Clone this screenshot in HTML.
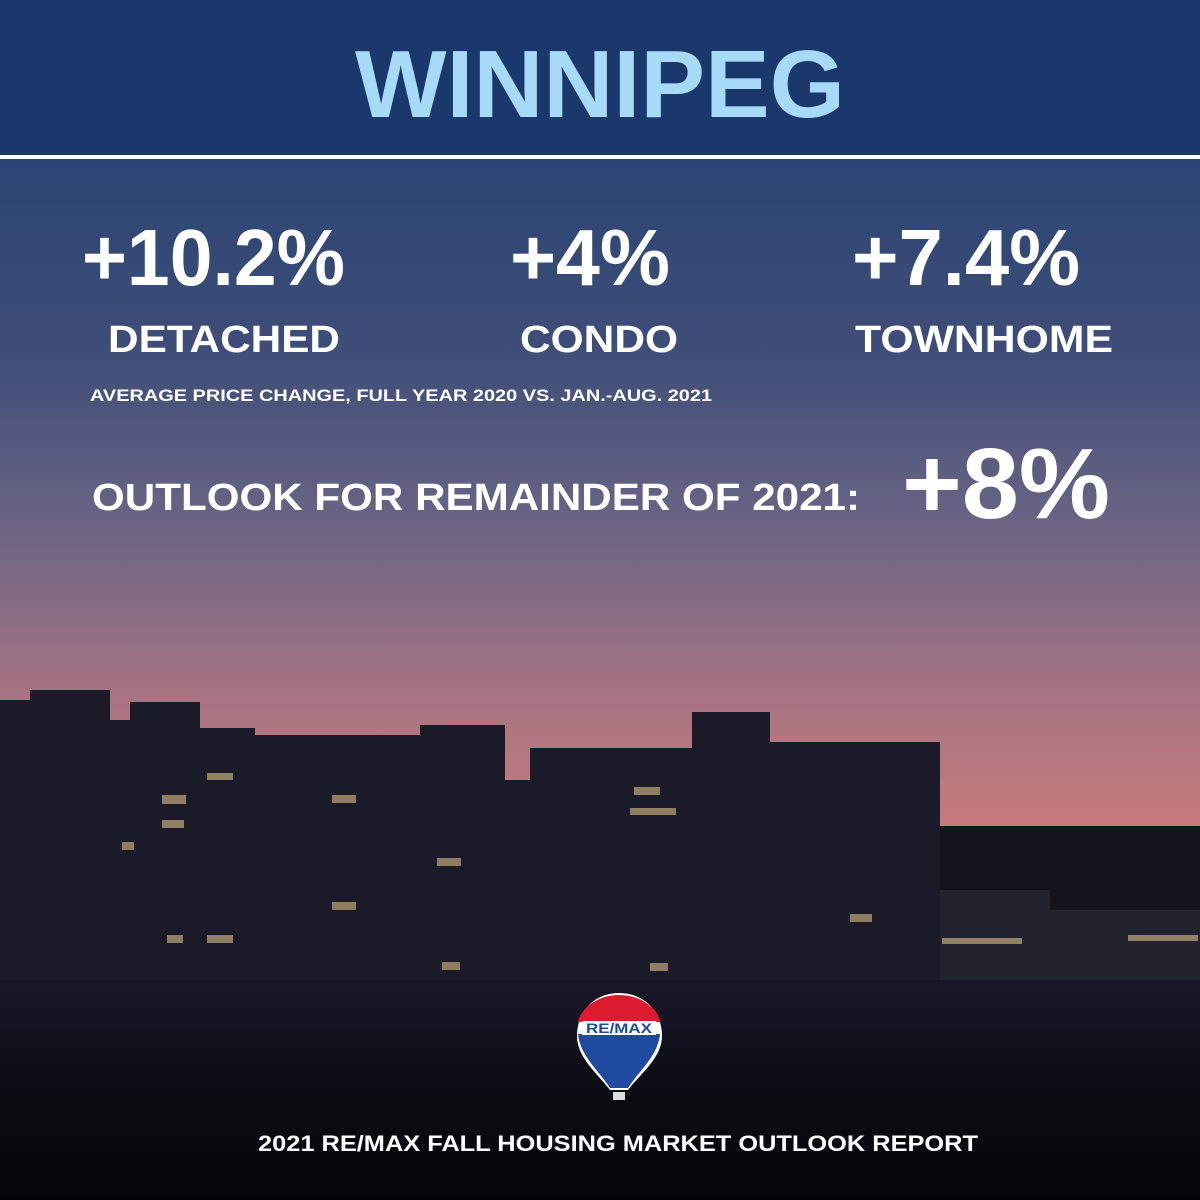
<!DOCTYPE html>
<html><head><meta charset="utf-8"><style>html,body{margin:0;padding:0;background:#000}svg{display:block}</style></head>
<body>
<svg width="1200" height="1200" viewBox="0 0 1200 1200" xmlns="http://www.w3.org/2000/svg" font-family="Liberation Sans, sans-serif" font-weight="bold">
<defs>
<linearGradient id="sky" x1="0" y1="0" x2="0" y2="1">
<stop offset="0" stop-color="#2a4473"/>
<stop offset="0.3" stop-color="#404e78"/>
<stop offset="0.55" stop-color="#6c6585"/>
<stop offset="0.8" stop-color="#a87482"/>
<stop offset="1" stop-color="#c87c7c"/>
</linearGradient>
<linearGradient id="ground" x1="0" y1="0" x2="0" y2="1">
<stop offset="0" stop-color="#18182a"/>
<stop offset="0.5" stop-color="#0c0c14"/>
<stop offset="1" stop-color="#050507"/>
</linearGradient>
</defs>
<rect x="0" y="155" width="1200" height="680" fill="url(#sky)"/>
<rect x="0" y="0" width="1200" height="155" fill="#1b386d"/>
<rect x="0" y="155" width="1200" height="4" fill="#ffffff"/>
<g fill="#1a1a29">
<rect x="0" y="826" width="1200" height="374" fill="#14141d"/>
<polygon points="0,700 30,700 30,690 110,690 110,720 130,720 130,702 200,702 200,728 255,728 255,735 420,735 420,725 505,725 505,1200 0,1200"/>
<polygon points="505,780 530,780 530,748 692,748 692,712 770,712 770,742 940,742 940,1200 505,1200"/>
<polygon points="940,890 1050,890 1050,910 1200,910 1200,1200 940,1200" fill="#21232f"/>
</g>
<rect x="0" y="980" width="1200" height="220" fill="url(#ground)"/>
<g fill="#f0d090" opacity="0.55">
<rect x="162" y="795" width="24" height="9"/><rect x="162" y="820" width="22" height="8"/><rect x="122" y="842" width="12" height="8"/><rect x="207" y="773" width="26" height="7"/>
<rect x="332" y="795" width="24" height="8"/><rect x="437" y="858" width="24" height="8"/><rect x="167" y="935" width="16" height="8"/><rect x="207" y="935" width="26" height="8"/>
<rect x="634" y="787" width="26" height="8"/><rect x="630" y="808" width="46" height="7"/><rect x="850" y="914" width="22" height="8"/><rect x="650" y="963" width="18" height="8"/>
<rect x="942" y="938" width="80" height="6"/><rect x="1128" y="935" width="70" height="6"/><rect x="332" y="902" width="24" height="8"/><rect x="442" y="962" width="18" height="8"/>
</g>
<text x="600" y="117" text-anchor="middle" font-size="96" fill="#a6daf6" textLength="490" lengthAdjust="spacingAndGlyphs">WINNIPEG</text>
<g fill="#ffffff">
<text x="82" y="285" font-size="80" textLength="263" lengthAdjust="spacingAndGlyphs">+10.2%</text>
<text x="510" y="285" font-size="80" textLength="160" lengthAdjust="spacingAndGlyphs">+4%</text>
<text x="852" y="285" font-size="80" textLength="228" lengthAdjust="spacingAndGlyphs">+7.4%</text>
<text x="108" y="352" font-size="38" textLength="232" lengthAdjust="spacingAndGlyphs">DETACHED</text>
<text x="520" y="352" font-size="38" textLength="158" lengthAdjust="spacingAndGlyphs">CONDO</text>
<text x="855" y="352" font-size="38" textLength="258" lengthAdjust="spacingAndGlyphs">TOWNHOME</text>
<text x="90" y="401" font-size="17" textLength="622" lengthAdjust="spacingAndGlyphs">AVERAGE PRICE CHANGE, FULL YEAR 2020 VS. JAN.-AUG. 2021</text>
<text x="92" y="510" font-size="38" textLength="768" lengthAdjust="spacingAndGlyphs">OUTLOOK FOR REMAINDER OF 2021:</text>
<text x="902" y="518" font-size="100" textLength="208" lengthAdjust="spacingAndGlyphs">+8%</text>
<text x="258" y="1151" font-size="22" textLength="720" lengthAdjust="spacingAndGlyphs">2021 RE/MAX FALL HOUSING MARKET OUTLOOK REPORT</text>
</g>
<g>
<path d="M619,993 C645,993 662,1012 662,1036 C662,1058 640,1074 628,1090 L610,1090 C598,1074 577,1058 577,1036 C577,1012 594,993 619,993 Z" fill="#ffffff"/>
<path d="M619,995 C642,995 659,1010 660,1022 L578,1022 C580,1010 596,995 619,995 Z" fill="#dc1c2e"/>
<path d="M578,1034 L660,1034 C658,1056 638,1072 628,1088 L610,1088 C600,1072 580,1056 578,1034 Z" fill="#1f4aa0"/>
<rect x="582" y="1021" width="74" height="14" fill="#fff"/>
<text x="619" y="1033" text-anchor="middle" font-size="14" fill="#1f4aa0" textLength="66" lengthAdjust="spacingAndGlyphs">RE/MAX</text>
<rect x="613" y="1092" width="12" height="8" fill="#ddd"/>
</g>
</svg>
</body></html>
